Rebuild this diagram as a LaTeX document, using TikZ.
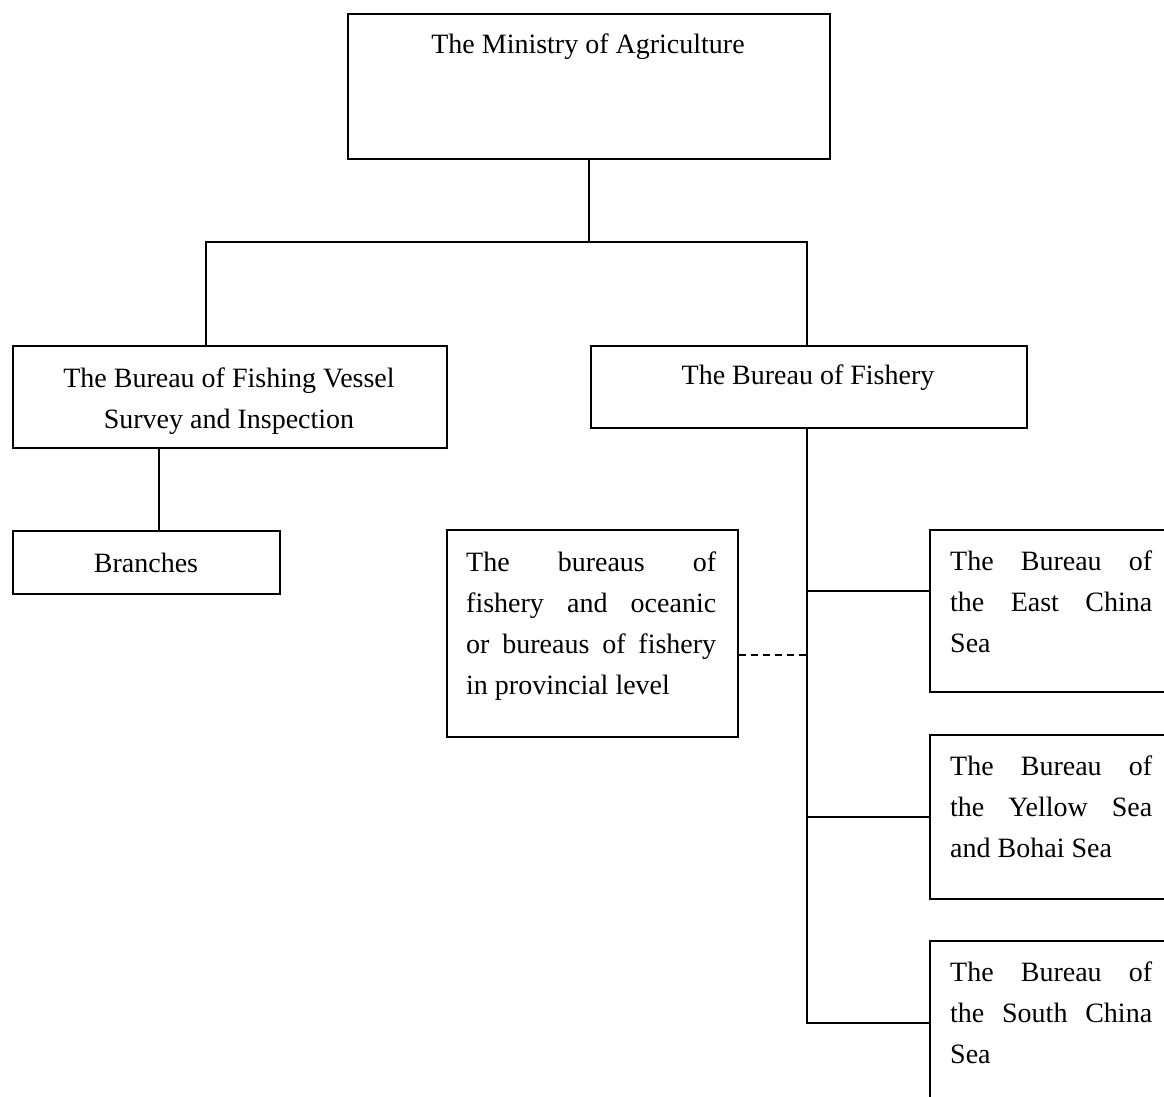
\documentclass[tikz,border=0pt]{standalone}
\usepackage{fontspec}
\setmainfont{Liberation Serif}
\begin{document}
\begin{tikzpicture}[x=1pt,y=-1pt,
  box/.style={draw=black,line width=2.2pt,inner sep=0pt,anchor=north west},
  lbl/.style={inner sep=0pt,font=\fontsize{28pt}{41pt}\selectfont},
  conn/.style={draw=black,line width=2.2pt}]
\useasboundingbox (0,0) rectangle (1164,1097);
\clip (0,0) rectangle (1164,1097);
% boxes
\node[box,minimum width=482pt,minimum height=145pt] (mini) at (347,13) {};
\node[box,minimum width=434pt,minimum height=102pt] (vessel) at (12,345) {};
\node[box,minimum width=436pt,minimum height=82pt] (fishery) at (590,345) {};
\node[box,minimum width=267pt,minimum height=63pt] (branches) at (12,530) {};
\node[box,minimum width=291pt,minimum height=207pt] (prov) at (446,529) {};
\node[box,minimum width=260pt,minimum height=162pt] (east) at (929,529) {};
\node[box,minimum width=260pt,minimum height=164pt] (yellow) at (929,734) {};
\node[box,minimum width=260pt,minimum height=164pt] (south) at (929,940) {};
% texts
\node[lbl,anchor=base] (minit) at (588,54) {The Ministry of Agriculture};
\node[lbl,anchor=base] (vesselt) at (229,387) {\parbox[t]{434pt}{\centering The Bureau of Fishing Vessel\\Survey and Inspection}};
\node[lbl,anchor=base] (fisheryt) at (808,384) {The Bureau of Fishery};
\node[lbl,anchor=base] (branchest) at (146,572) {Branches};
\node[lbl,anchor=base west] (provt) at (466,571) {\parbox[t]{250pt}{%
\makebox[\linewidth][s]{The\hfill bureaus\hfill of}\\
\makebox[\linewidth][s]{fishery\hfill and\hfill oceanic}\\
\makebox[\linewidth][s]{or bureaus of fishery}\\
in provincial level}};
\node[lbl,anchor=base west] (eastt) at (950,570) {\parbox[t]{202pt}{%
\makebox[\linewidth][s]{The\hfill Bureau\hfill of}\\
\makebox[\linewidth][s]{the\hfill East\hfill China}\\
Sea}};
\node[lbl,anchor=base west] (yellowt) at (950,775) {\parbox[t]{202pt}{%
\makebox[\linewidth][s]{The\hfill Bureau\hfill of}\\
\makebox[\linewidth][s]{the\hfill Yellow\hfill Sea}\\
and Bohai Sea}};
\node[lbl,anchor=base west] (southt) at (950,981) {\parbox[t]{202pt}{%
\makebox[\linewidth][s]{The\hfill Bureau\hfill of}\\
\makebox[\linewidth][s]{the\hfill South\hfill China}\\
Sea}};
% connectors
\coordinate (bus) at ([yshift=-82pt]mini.south);
\draw[conn] (mini.south) -- (bus);
\draw[conn] ([xshift=-24pt]vessel.north) |- (bus);
\draw[conn] (bus) -| ([xshift=-2pt]fishery.north);
\draw[conn] ([xshift=-71pt]vessel.south) -- ([xshift=-71pt]vessel.south |- branches.north);
\coordinate (trunktop) at ([xshift=-2pt]fishery.south);
\coordinate (eastin) at ([yshift=20pt]east.west);
\coordinate (provout) at ([yshift=-21pt]prov.east);
\draw[conn] (trunktop) |- (south.west);
\draw[conn] (trunktop |- eastin) -- (eastin);
\draw[conn] (trunktop |- yellow.west) -- (yellow.west);
\draw[conn,line width=2pt,dash pattern=on 7pt off 5pt] (provout) -- (trunktop |- provout);
\end{tikzpicture}
\end{document}
